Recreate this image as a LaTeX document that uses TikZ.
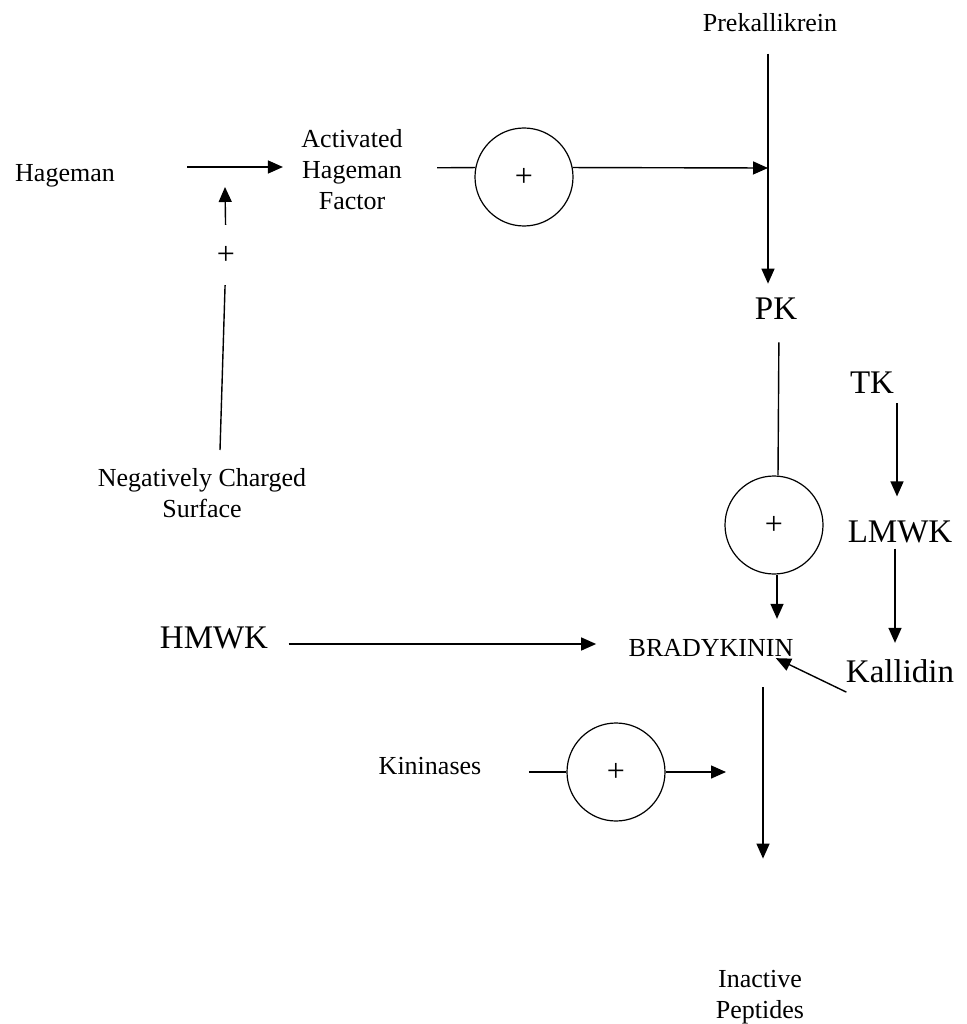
\documentclass[tikz,border=0pt]{standalone}
\usepackage{fontspec}
\setmainfont{Liberation Serif}
\usetikzlibrary{arrows.meta}
\newcommand{\smallfs}{\fontsize{26}{31}\selectfont}
\newcommand{\bigfs}{\fontsize{33}{38}\selectfont}
\newcommand{\plusfs}{\fontsize{32}{36}\selectfont}

\begin{document}
\begin{tikzpicture}[x=1pt,y=-1pt,
  lbl/.style={align=center,font=\smallfs},
  big/.style={font=\bigfs},
  enz/.style={circle,draw,line width=1.2pt,minimum size=98pt,inner sep=0pt,font=\plusfs},
  ln/.style={line width=1.4pt},
  arr/.style={ln,-{Triangle[length=15pt,width=13pt]}}]
\useasboundingbox (0,0) rectangle (966,1024);
% contact activation
\node[lbl] (hag) at (65,176) {Hageman};
\node[lbl] (ahf) at (352,170) {Activated\\ Hageman\\ Factor};
\node[lbl] (ncs) at (202,493) {Negatively Charged\\ Surface};
\node[lbl,font=\plusfs,minimum height=60pt] (plusS) at (226,255) {+};
\node[enz] (circA) at (524,177) {+};
\node[lbl] (prek) at (770,23) {Prekallikrein};
\node[big] (pk) at (776,309) {PK};
\coordinate (jn) at (768,168);
\coordinate (s0) at (220,450);
\coordinate (s1) at (225,187);
% kinin formation
\node[enz] (circB) at (774,525) {+};
\node[big] (tk) at (872,383) {TK};
\node[big] (lmwk) at (900,532) {LMWK};
\node[big] (kal) at (900,671) {Kallidin};
\node[big] (hmwk) at (214,638) {HMWK};
\node[lbl] (brady) at (711,648) {BRADYKININ};
% breakdown
\node[lbl] (kin) at (430,766) {Kininases};
\node[enz] (circC) at (616,772) {+};
\node[lbl] (inact) at (760,997) {Inactive\\ Peptides};
\coordinate (kc) at (726,772);
\draw[arr,shorten <=69pt,shorten >=15pt] ([yshift=9pt]hag.east) -- ([yshift=3pt]ahf.west);
\draw[ln] (s0) -- (plusS); \draw[arr] (plusS) -- (s1);
\draw[ln,shorten <=31pt] ([yshift=2pt]ahf.east) -- (circA.169);
\draw[arr] (circA.11) -- (jn);
\draw[arr,shorten <=18pt,shorten >=11pt] (prek.south -| jn) -- (pk.north -| jn);
\draw[ln,shorten <=19pt] ([xshift=3pt]pk.south) -- ([xshift=4pt]circB.north);
\draw[arr,shorten >=17pt] ([xshift=3pt]circB.south) -- ([xshift=3pt]circB.south |- brady.north);
\draw[arr,shorten <=6pt,shorten >=21pt] ([xshift=-3pt]lmwk.north |- tk.south) -- ([xshift=-3pt]lmwk.north);
\draw[arr,shorten <=2pt,shorten >=13pt] ([xshift=-5pt]lmwk.south) -- ([xshift=-5pt]kal.north);
\draw[arr] ([xshift=4pt,yshift=-6pt]kal.south west) -- ([xshift=-21pt,yshift=2pt]brady.south east);
\draw[arr,shorten <=17pt,shorten >=29pt] ([yshift=-6pt]hmwk.east) -- ([yshift=4pt]brady.west);
\draw[arr,shorten <=27pt,shorten >=108pt] ([xshift=52pt]brady.south) -- ([xshift=3pt]inact.north);
\draw[ln,shorten <=44pt] ([yshift=-6pt]kin.east) -- (circC.west);
\draw[arr] (circC.east) -- (kc);
\end{tikzpicture}
\end{document}
